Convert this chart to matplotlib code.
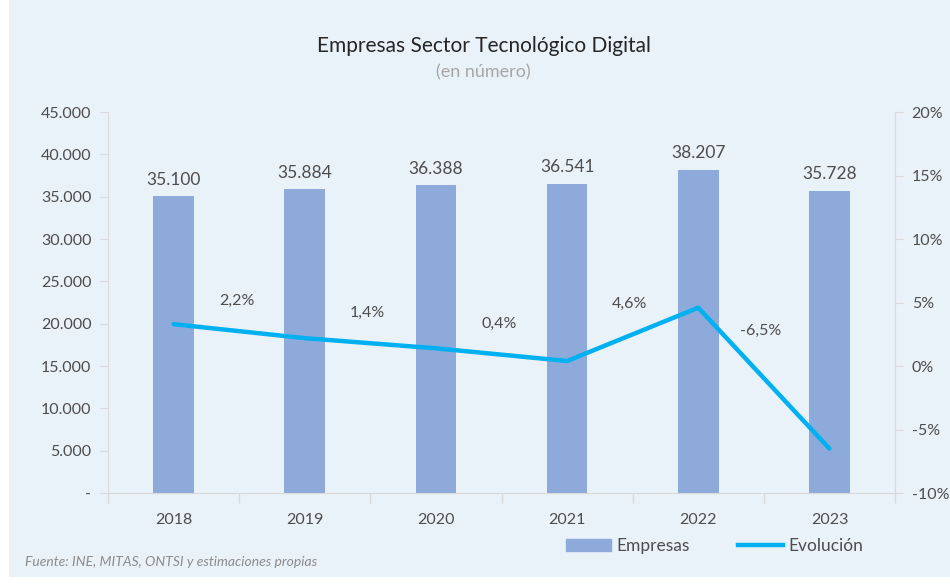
import matplotlib.pyplot as plt
from matplotlib.patches import Rectangle
from matplotlib.lines import Line2D
import matplotlib.ticker as mticker

# datos
anios = ['2018', '2019', '2020', '2021', '2022', '2023']
empresas = [35100, 35884, 36388, 36541, 38207, 35728]
evolucion = [3.3, 2.2, 1.4, 0.4, 4.6, -6.5]
etiquetas_evol = ['2,2%', '1,4%', '0,4%', '4,6%', '-6,5%']

plt.rcParams['font.family'] = ['Lato', 'DejaVu Sans']

fondo = '#e9f1f9'
gris_txt = '#4d4d4d'
gris_eje = '#d9d9d9'

fig = plt.figure(figsize=(9.5, 5.87), dpi=100)
fig.patch.set_facecolor('white')
fig.patches.append(Rectangle((0.009, 0.017), 0.991, 0.983, transform=fig.transFigure,
                             facecolor=fondo, edgecolor='none', zorder=-10))

ax = fig.add_axes([0.1137, 0.160, 0.8284, 0.649])
ax.set_facecolor(fondo)
x = list(range(len(anios)))
ax.bar(x, empresas, width=0.31, color='#8eaadb', zorder=2)
for xi, v in zip(x, empresas):
    ax.annotate(f'{v:,}'.replace(',', '.'), (xi, v), xytext=(0, 6), textcoords='offset points',
                ha='center', va='bottom', fontsize=12.5, color=gris_txt)

ax.set_ylim(0, 45000)
ax.set_xlim(-0.5, len(anios) - 0.5)
ax.yaxis.set_major_locator(mticker.MultipleLocator(5000))
ax.yaxis.set_major_formatter(mticker.FuncFormatter(
    lambda v, p: '-' if v == 0 else f'{int(v):,}'.replace(',', '.')))
ax.set_xticks(x)
ax.set_xticklabels(anios)
ax.set_xticks([i - 0.5 for i in range(len(anios) + 1)], minor=True)
ax.tick_params(axis='x', which='major', length=0, pad=14, labelsize=11.5, labelcolor=gris_txt)
ax.tick_params(axis='x', which='minor', length=7, color=gris_eje, width=1)
ax.tick_params(axis='y', length=6, color=gris_eje, labelsize=11.5, labelcolor=gris_txt, pad=6)
for s in ['top', 'right']:
    ax.spines[s].set_visible(False)
for s in ['left', 'bottom']:
    ax.spines[s].set_color(gris_eje)

ax2 = ax.twinx()
ax2.plot(x, evolucion, color='#00b0f0', lw=3.2, solid_capstyle='round', zorder=3)
ax2.set_ylim(-10, 20)
ax2.yaxis.set_major_locator(mticker.MultipleLocator(5))
ax2.yaxis.set_major_formatter(mticker.FuncFormatter(lambda v, p: f'{int(v)}%'))
ax2.tick_params(axis='y', length=6, color=gris_eje, labelsize=11.5, labelcolor=gris_txt, pad=6)
for s in ['top', 'left', 'bottom']:
    ax2.spines[s].set_visible(False)
ax2.spines['right'].set_color(gris_eje)

desplaz = [22, 22, 22, 22, 34]
for i, lab in enumerate(etiquetas_evol):
    xm = i + 0.5
    ym = (evolucion[i] + evolucion[i + 1]) / 2
    ax2.annotate(lab, (xm, ym), xytext=(-2, desplaz[i]), textcoords='offset points',
                 ha='center', va='center', fontsize=11.5, color=gris_txt)

fig.text(0.509, 0.922, 'Empresas Sector Tecnológico Digital', ha='center', va='center',
         fontsize=15, color='#262626')
fig.text(0.509, 0.876, '(en número)', ha='center', va='center', fontsize=13, color='#a6a6a6')

h = [Rectangle((0, 0), 1, 1, color='#8eaadb'), Line2D([0], [0], color='#00b0f0', lw=3.2)]
fig.legend(h, ['Empresas', 'Evolución'], loc='center', bbox_to_anchor=(0.752, 0.070), ncol=2,
           frameon=False, fontsize=12.5, labelcolor=gris_txt, handlelength=2.6,
           handletextpad=0.3, columnspacing=2.8)

fig.text(0.026, 0.042, 'Fuente: INE, MITAS, ONTSI y estimaciones propias', ha='left', va='center',
         fontsize=10, style='italic', color='#8c8c8c')

fig.savefig('out.png', dpi=100, facecolor=fig.get_facecolor())
